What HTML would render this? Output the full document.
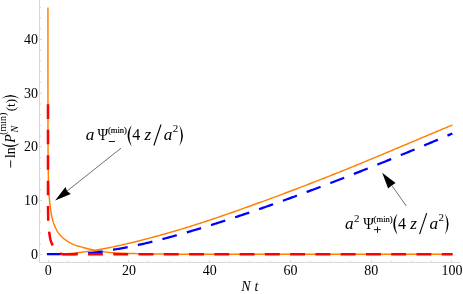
<!DOCTYPE html><html><head><meta charset="utf-8"><title>Chart</title><style>html,body{margin:0;padding:0;background:#fff}body{width:463px;height:294px;overflow:hidden;font-family:"Liberation Serif",serif}</style></head><body><svg width="463" height="294" viewBox="0 0 463 294" style="display:block;will-change:transform">
<rect width="463" height="294" fill="#fff"/>
<g stroke="#d6d6d6" stroke-width="1" fill="none">
<path d="M39.45,0 V262.8"/>
<path d="M38.95,262.4 H460.4"/>
<path d="M48.5,261.8 v-2.0"/>
<path d="M68.5,261.8 v-1.0"/>
<path d="M88.5,261.8 v-1.0"/>
<path d="M108.5,261.8 v-1.0"/>
<path d="M128.5,261.8 v-2.0"/>
<path d="M148.5,261.8 v-1.0"/>
<path d="M169.5,261.8 v-1.0"/>
<path d="M189.5,261.8 v-1.0"/>
<path d="M209.5,261.8 v-2.0"/>
<path d="M229.5,261.8 v-1.0"/>
<path d="M249.5,261.8 v-1.0"/>
<path d="M270.5,261.8 v-1.0"/>
<path d="M290.5,261.8 v-2.0"/>
<path d="M310.5,261.8 v-1.0"/>
<path d="M330.5,261.8 v-1.0"/>
<path d="M350.5,261.8 v-1.0"/>
<path d="M371.5,261.8 v-2.0"/>
<path d="M391.5,261.8 v-1.0"/>
<path d="M411.5,261.8 v-1.0"/>
<path d="M431.5,261.8 v-1.0"/>
<path d="M451.5,261.8 v-2.0"/>
<path d="M39.95,254.40 h2.1"/>
<path d="M39.95,243.65 h1.1"/>
<path d="M39.95,232.90 h1.1"/>
<path d="M39.95,222.15 h1.1"/>
<path d="M39.95,211.40 h1.1"/>
<path d="M39.95,200.65 h2.1"/>
<path d="M39.95,189.90 h1.1"/>
<path d="M39.95,179.15 h1.1"/>
<path d="M39.95,168.40 h1.1"/>
<path d="M39.95,157.65 h1.1"/>
<path d="M39.95,146.90 h2.1"/>
<path d="M39.95,136.15 h1.1"/>
<path d="M39.95,125.40 h1.1"/>
<path d="M39.95,114.65 h1.1"/>
<path d="M39.95,103.90 h1.1"/>
<path d="M39.95,93.15 h2.1"/>
<path d="M39.95,82.40 h1.1"/>
<path d="M39.95,71.65 h1.1"/>
<path d="M39.95,60.90 h1.1"/>
<path d="M39.95,50.15 h1.1"/>
<path d="M39.95,39.40 h2.1"/>
<path d="M39.95,28.65 h1.1"/>
<path d="M39.95,17.90 h1.1"/>
<path d="M39.95,7.15 h1.1"/>
</g>
<path d="M47.95,7.60 L47.95,8.65 L47.95,9.69 L47.95,10.74 L47.95,11.78 L47.95,12.83 L47.95,13.87 L47.95,14.92 L47.95,15.96 L47.95,17.01 L47.95,18.05 L47.95,19.10 L47.95,20.14 L47.95,21.19 L47.95,22.23 L47.95,23.28 L47.95,24.32 L47.95,25.37 L47.95,26.41 L47.95,27.46 L47.95,28.50 L47.95,29.55 L47.95,30.59 L47.95,31.64 L47.95,32.68 L47.95,33.73 L47.95,34.77 L47.95,35.82 L47.95,36.86 L47.95,37.91 L47.95,38.95 L47.95,40.00 L47.95,41.04 L47.95,42.09 L47.95,43.13 L47.95,44.18 L47.95,45.22 L47.95,46.27 L47.95,47.31 L47.95,48.36 L47.95,49.40 L47.95,50.45 L47.95,51.49 L47.95,52.54 L47.95,53.58 L47.95,54.63 L47.95,55.67 L47.95,56.72 L47.95,57.76 L47.95,58.81 L47.95,59.85 L47.95,60.90 L47.95,61.94 L47.95,62.99 L47.95,64.03 L47.95,65.08 L47.95,66.12 L47.95,67.17 L47.95,68.21 L47.95,69.26 L47.95,70.30 L47.95,71.35 L47.95,72.39 L47.95,73.44 L47.95,74.48 L47.95,75.53 L47.95,76.58 L47.95,77.62 L47.95,78.67 L47.95,79.71 L47.95,80.76 L47.95,81.80 L47.95,82.85 L47.95,83.89 L47.95,84.94 L47.95,85.98 L47.95,87.03 L47.95,88.07 L47.95,89.12 L47.96,90.16 L47.96,91.21 L47.96,92.25 L47.96,93.30 L47.96,94.34 L47.96,95.39 L47.96,96.43 L47.96,97.48 L47.96,98.52 L47.96,99.57 L47.96,100.61 L47.96,101.66 L47.96,102.70 L47.96,103.75 L47.96,104.79 L47.96,105.84 L47.96,106.88 L47.96,107.93 L47.96,108.97 L47.96,110.02 L47.96,111.06 L47.97,112.11 L47.97,113.15 L47.97,114.20 L47.97,115.24 L47.97,116.29 L47.97,117.33 L47.97,118.38 L47.97,119.42 L47.97,120.47 L47.97,121.51 L47.97,122.56 L47.97,123.60 L47.97,124.65 L47.98,125.69 L47.98,126.74 L47.98,127.78 L47.98,128.83 L47.98,129.87 L47.98,130.92 L47.99,131.96 L47.99,133.01 L47.99,134.05 L47.99,135.10 L48.00,136.14 L48.00,137.19 L48.00,138.24 L48.01,139.28 L48.01,140.33 L48.01,141.37 L48.02,142.42 L48.02,143.46 L48.02,144.51 L48.03,145.55 L48.03,146.60 L48.04,147.64 L48.04,148.69 L48.05,149.73 L48.05,150.78 L48.06,151.82 L48.06,152.87 L48.07,153.91 L48.07,154.96 L48.08,156.00 L48.08,157.05 L48.09,158.09 L48.09,159.14 L48.10,160.18 L48.11,161.23 L48.12,162.27 L48.13,163.32 L48.14,164.36 L48.15,165.41 L48.17,166.45 L48.18,167.50 L48.20,168.54 L48.22,169.59 L48.23,170.63 L48.26,171.68 L48.28,172.72 L48.30,173.77 L48.32,174.81 L48.35,175.86 L48.38,176.90 L48.40,177.95 L48.43,178.99 L48.46,180.04 L48.49,181.08 L48.53,182.13 L48.56,183.17 L48.59,184.22 L48.63,185.26 L48.66,186.30 L48.70,187.35 L48.74,188.39 L48.78,189.44 L48.82,190.48 L48.87,191.52 L48.93,192.57 L48.99,193.61 L49.06,194.65 L49.14,195.70 L49.22,196.74 L49.31,197.78 L49.40,198.82 L49.49,199.86 L49.59,200.90 L49.69,201.94 L49.81,202.98 L49.94,204.02 L50.07,205.05 L50.21,206.09 L50.35,207.13 L50.49,208.16 L50.63,209.20 L50.77,210.23 L50.91,211.27 L51.06,212.31 L51.21,213.34 L51.39,214.37 L51.58,215.40 L51.79,216.42 L52.01,217.44 L52.26,218.46 L52.53,219.47 L52.81,220.48 L53.10,221.48 L53.41,222.47 L53.75,223.46 L54.12,224.44 L54.50,225.42 L54.90,226.39 L55.32,227.35 L55.76,228.30 L56.21,229.24 L56.68,230.17 L57.19,231.09 L57.73,231.99 L58.31,232.84 L58.96,233.66 L59.64,234.46 L60.34,235.24 L61.04,236.03 L61.75,236.80 L62.50,237.53 L63.28,238.21 L64.08,238.86 L64.92,239.50 L65.77,240.11 L66.64,240.71 L67.53,241.28 L68.42,241.83 L69.32,242.35 L70.23,242.85 L71.16,243.33 L72.09,243.80 L73.05,244.25 L74.01,244.68 L74.98,245.08 L75.95,245.44 L76.94,245.77 L77.94,246.06 L78.96,246.32 L79.97,246.59 L80.98,246.87 L81.98,247.16 L82.99,247.44 L83.99,247.72 L85.00,248.01 L86.01,248.29 L87.02,248.56 L88.03,248.81 L89.04,249.06 L90.06,249.30 L91.08,249.54 L92.10,249.77 L93.12,249.99 L94.14,250.22 L95.16,250.44 L96.19,250.65 L97.21,250.84 L98.24,251.01 L99.28,251.17 L100.31,251.33 L101.35,251.47 L102.38,251.62 L103.42,251.75 L104.45,251.88 L105.49,252.01 L106.53,252.14 L107.57,252.26 L108.61,252.37 L109.65,252.47 L110.69,252.55 L111.73,252.63 L112.77,252.70 L113.81,252.77 L114.86,252.84 L115.90,252.90 L116.95,252.95 L117.99,253.01 L119.03,253.06 L120.08,253.10 L121.12,253.15 L122.17,253.19 L123.21,253.23 L124.25,253.27 L125.30,253.31 L126.34,253.35 L127.39,253.38 L128.43,253.42 L129.48,253.45 L130.52,253.48 L131.57,253.51 L132.61,253.54 L133.66,253.57 L134.70,253.59 L135.75,253.62 L136.79,253.64 L137.84,253.67 L138.88,253.69 L139.92,253.72 L140.97,253.74 L142.01,253.76 L143.06,253.79 L144.10,253.81 L145.15,253.83 L146.19,253.85 L147.24,253.87 L148.28,253.89 L149.33,253.91 L150.37,253.93 L151.42,253.95 L152.46,253.97 L153.51,253.98 L154.55,254.00 L155.60,254.01 L156.64,254.02 L157.69,254.03 L158.73,254.04 L159.78,254.05 L160.82,254.06 L161.87,254.06 L162.91,254.07 L163.96,254.08 L165.00,254.08 L166.05,254.09 L167.09,254.09 L168.14,254.10 L169.18,254.11 L170.23,254.11 L171.27,254.12 L172.32,254.12 L173.36,254.13 L174.41,254.13 L175.45,254.14 L176.50,254.14 L177.54,254.15 L178.59,254.15 L179.63,254.16 L180.68,254.16 L181.72,254.16 L182.77,254.17 L183.81,254.17 L184.86,254.18 L185.91,254.18 L186.95,254.18 L188.00,254.18 L189.04,254.19 L190.09,254.19 L191.13,254.19 L192.18,254.19 L193.22,254.19 L194.27,254.20 L195.31,254.20 L196.36,254.20 L197.40,254.20 L198.45,254.20 L199.49,254.20 L200.54,254.20 L201.58,254.20 L202.63,254.20 L203.67,254.20 L204.72,254.20 L205.76,254.20 L206.81,254.20 L207.85,254.20 L208.90,254.20 L209.94,254.20 L210.99,254.20 L212.03,254.20 L213.08,254.20 L214.12,254.20 L215.17,254.20 L216.21,254.20 L217.26,254.20 L218.30,254.20 L219.35,254.20 L220.39,254.20 L221.44,254.20 L222.48,254.20 L223.53,254.20 L224.57,254.20 L225.62,254.20 L226.66,254.20 L227.71,254.20 L228.75,254.20 L229.80,254.20 L230.84,254.20 L231.89,254.20 L232.93,254.20 L233.98,254.20 L235.02,254.20 L236.07,254.20 L237.11,254.20 L238.16,254.20 L239.20,254.20 L240.25,254.20 L241.29,254.20 L242.34,254.20 L243.38,254.20 L244.43,254.20 L245.47,254.20 L246.52,254.20 L247.56,254.20 L248.61,254.20 L249.65,254.20 L250.70,254.20 L251.74,254.20 L252.79,254.20 L253.84,254.20 L254.88,254.20 L255.93,254.20 L256.97,254.20 L258.02,254.20 L259.06,254.20 L260.11,254.20 L261.15,254.20 L262.20,254.20 L263.24,254.20 L264.29,254.20 L265.33,254.20 L266.38,254.20 L267.42,254.20 L268.47,254.20 L269.51,254.20 L270.56,254.20 L271.60,254.20 L272.65,254.20 L273.69,254.20 L274.74,254.20 L275.78,254.20 L276.83,254.20 L277.87,254.20 L278.92,254.20 L279.96,254.20 L281.01,254.20 L282.05,254.20 L283.10,254.20 L284.14,254.20 L285.19,254.20 L286.23,254.20 L287.28,254.20 L288.32,254.20 L289.37,254.20 L290.41,254.20 L291.46,254.20 L292.50,254.20 L293.55,254.20 L294.59,254.20 L295.64,254.20 L296.68,254.20 L297.73,254.20 L298.77,254.20 L299.82,254.20 L300.86,254.20 L301.91,254.20 L302.95,254.20 L304.00,254.20 L305.04,254.20 L306.09,254.20 L307.13,254.20 L308.18,254.20 L309.22,254.20 L310.27,254.20 L311.31,254.20 L312.36,254.20 L313.40,254.20 L314.45,254.20 L315.49,254.20 L316.54,254.20 L317.58,254.20 L318.63,254.20 L319.67,254.20 L320.72,254.20 L321.77,254.20 L322.81,254.20 L323.86,254.20 L324.90,254.20 L325.95,254.20 L326.99,254.20 L328.04,254.20 L329.08,254.20 L330.13,254.20 L331.17,254.20 L332.22,254.20 L333.26,254.20 L334.31,254.20 L335.35,254.20 L336.40,254.20 L337.44,254.20 L338.49,254.20 L339.53,254.20 L340.58,254.20 L341.62,254.20 L342.67,254.20 L343.71,254.20 L344.76,254.20 L345.80,254.20 L346.85,254.20 L347.89,254.20 L348.94,254.20 L349.98,254.20 L351.03,254.20 L352.07,254.20 L353.12,254.20 L354.16,254.20 L355.21,254.20 L356.25,254.20 L357.30,254.20 L358.34,254.20 L359.39,254.20 L360.43,254.20 L361.48,254.20 L362.52,254.20 L363.57,254.20 L364.61,254.20 L365.66,254.20 L366.70,254.20 L367.75,254.20 L368.79,254.20 L369.84,254.20 L370.88,254.20 L371.93,254.20 L372.97,254.20 L374.02,254.20 L375.06,254.20 L376.11,254.20 L377.15,254.20 L378.20,254.20 L379.24,254.20 L380.29,254.20 L381.33,254.20 L382.38,254.20 L383.42,254.20 L384.47,254.20 L385.51,254.20 L386.56,254.20 L387.60,254.20 L388.65,254.20 L389.70,254.20 L390.74,254.20 L391.79,254.20 L392.83,254.20 L393.88,254.20 L394.92,254.20 L395.97,254.20 L397.01,254.20 L398.06,254.20 L399.10,254.20 L400.15,254.20 L401.19,254.20 L402.24,254.20 L403.28,254.20 L404.33,254.20 L405.37,254.20 L406.42,254.20 L407.46,254.20 L408.51,254.20 L409.55,254.20 L410.60,254.20 L411.64,254.20 L412.69,254.20 L413.73,254.20 L414.78,254.20 L415.82,254.20 L416.87,254.20 L417.91,254.20 L418.96,254.20 L420.00,254.20 L421.05,254.20 L422.09,254.20 L423.14,254.20 L424.18,254.20 L425.23,254.20 L426.27,254.20 L427.32,254.20 L428.36,254.20 L429.41,254.20 L430.45,254.20 L431.50,254.20 L432.54,254.20 L433.59,254.20 L434.63,254.20 L435.68,254.20 L436.72,254.20 L437.77,254.20 L438.81,254.20 L439.86,254.20 L440.90,254.20 L441.95,254.20 L442.99,254.20 L444.04,254.20 L445.08,254.20 L446.13,254.20 L447.17,254.20 L448.22,254.20 L449.26,254.20 L450.31,254.20 L451.35,254.20 L452.40,254.20" fill="none" stroke="#FF8000" stroke-width="1.45" stroke-linejoin="round"/>
<path d="M48.00,254.15 L49.35,254.15 L50.71,254.15 L52.06,254.15 L53.41,254.15 L54.76,254.15 L56.12,254.15 L57.47,254.15 L58.82,254.15 L60.17,254.13 L61.53,254.07 L62.88,254.00 L64.23,253.92 L65.58,253.83 L66.94,253.74 L68.29,253.64 L69.64,253.53 L70.99,253.41 L72.35,253.29 L73.70,253.16 L75.05,253.02 L76.40,252.88 L77.76,252.73 L79.11,252.57 L80.46,252.41 L81.81,252.24 L83.17,252.06 L84.52,251.88 L85.87,251.70 L87.22,251.50 L88.58,251.30 L89.93,251.10 L91.28,250.89 L92.63,250.67 L93.99,250.45 L95.34,250.23 L96.69,249.99 L98.04,249.76 L99.40,249.52 L100.75,249.27 L102.10,249.02 L103.45,248.77 L104.81,248.51 L106.16,248.25 L107.51,247.98 L108.86,247.71 L110.22,247.44 L111.57,247.16 L112.92,246.88 L114.27,246.60 L115.63,246.31 L116.98,246.02 L118.33,245.72 L119.68,245.42 L121.04,245.12 L122.39,244.82 L123.74,244.51 L125.09,244.20 L126.45,243.89 L127.80,243.57 L129.15,243.25 L130.50,242.93 L131.86,242.61 L133.21,242.28 L134.56,241.95 L135.91,241.61 L137.27,241.28 L138.62,240.94 L139.97,240.60 L141.32,240.25 L142.68,239.91 L144.03,239.56 L145.38,239.21 L146.73,238.85 L148.09,238.50 L149.44,238.14 L150.79,237.78 L152.14,237.42 L153.50,237.05 L154.85,236.69 L156.20,236.32 L157.55,235.95 L158.91,235.58 L160.26,235.20 L161.61,234.82 L162.96,234.45 L164.32,234.06 L165.67,233.68 L167.02,233.30 L168.37,232.91 L169.73,232.52 L171.08,232.13 L172.43,231.74 L173.78,231.34 L175.14,230.95 L176.49,230.55 L177.84,230.15 L179.19,229.74 L180.55,229.34 L181.90,228.93 L183.25,228.52 L184.60,228.11 L185.96,227.69 L187.31,227.28 L188.66,226.86 L190.01,226.44 L191.37,226.02 L192.72,225.60 L194.07,225.17 L195.42,224.74 L196.78,224.31 L198.13,223.88 L199.48,223.44 L200.83,223.01 L202.19,222.57 L203.54,222.13 L204.89,221.69 L206.24,221.24 L207.60,220.80 L208.95,220.35 L210.30,219.90 L211.65,219.45 L213.01,219.00 L214.36,218.54 L215.71,218.09 L217.06,217.63 L218.42,217.17 L219.77,216.71 L221.12,216.24 L222.47,215.78 L223.83,215.31 L225.18,214.85 L226.53,214.38 L227.88,213.91 L229.24,213.44 L230.59,212.96 L231.94,212.49 L233.29,212.01 L234.65,211.54 L236.00,211.06 L237.35,210.58 L238.70,210.10 L240.06,209.62 L241.41,209.14 L242.76,208.66 L244.11,208.17 L245.47,207.69 L246.82,207.20 L248.17,206.72 L249.52,206.23 L250.88,205.74 L252.23,205.25 L253.58,204.76 L254.93,204.27 L256.29,203.78 L257.64,203.29 L258.99,202.80 L260.34,202.30 L261.70,201.81 L263.05,201.31 L264.40,200.82 L265.75,200.32 L267.11,199.83 L268.46,199.33 L269.81,198.83 L271.16,198.33 L272.52,197.83 L273.87,197.33 L275.22,196.83 L276.57,196.33 L277.93,195.83 L279.28,195.32 L280.63,194.82 L281.98,194.32 L283.34,193.81 L284.69,193.30 L286.04,192.80 L287.39,192.29 L288.75,191.78 L290.10,191.27 L291.45,190.76 L292.80,190.25 L294.16,189.74 L295.51,189.22 L296.86,188.71 L298.21,188.19 L299.57,187.68 L300.92,187.16 L302.27,186.65 L303.62,186.13 L304.98,185.61 L306.33,185.09 L307.68,184.57 L309.03,184.05 L310.39,183.52 L311.74,183.00 L313.09,182.48 L314.44,181.95 L315.80,181.42 L317.15,180.90 L318.50,180.37 L319.85,179.84 L321.21,179.31 L322.56,178.78 L323.91,178.25 L325.26,177.72 L326.62,177.18 L327.97,176.65 L329.32,176.11 L330.67,175.58 L332.03,175.04 L333.38,174.50 L334.73,173.96 L336.08,173.42 L337.44,172.88 L338.79,172.34 L340.14,171.80 L341.49,171.25 L342.85,170.71 L344.20,170.16 L345.55,169.62 L346.90,169.07 L348.26,168.52 L349.61,167.97 L350.96,167.42 L352.31,166.87 L353.67,166.32 L355.02,165.77 L356.37,165.22 L357.72,164.66 L359.08,164.11 L360.43,163.55 L361.78,162.99 L363.13,162.44 L364.49,161.88 L365.84,161.32 L367.19,160.76 L368.54,160.20 L369.90,159.63 L371.25,159.07 L372.60,158.51 L373.95,157.94 L375.31,157.38 L376.66,156.82 L378.01,156.25 L379.36,155.68 L380.72,155.12 L382.07,154.55 L383.42,153.98 L384.77,153.41 L386.13,152.85 L387.48,152.28 L388.83,151.71 L390.18,151.14 L391.54,150.57 L392.89,150.00 L394.24,149.43 L395.59,148.86 L396.95,148.29 L398.30,147.72 L399.65,147.15 L401.00,146.58 L402.36,146.01 L403.71,145.44 L405.06,144.87 L406.41,144.30 L407.77,143.73 L409.12,143.15 L410.47,142.58 L411.82,142.01 L413.18,141.44 L414.53,140.87 L415.88,140.30 L417.23,139.73 L418.59,139.16 L419.94,138.59 L421.29,138.02 L422.64,137.45 L424.00,136.89 L425.35,136.32 L426.70,135.75 L428.05,135.18 L429.41,134.61 L430.76,134.04 L432.11,133.48 L433.46,132.91 L434.82,132.34 L436.17,131.78 L437.52,131.21 L438.87,130.65 L440.23,130.08 L441.58,129.52 L442.93,128.95 L444.28,128.39 L445.64,127.83 L446.99,127.27 L448.34,126.70 L449.69,126.14 L451.05,125.58 L452.40,125.02" fill="none" stroke="#FF8000" stroke-width="1.45" stroke-linejoin="round"/>
<path d="M46.9,254.15 H61.9" fill="none" stroke="#0000FF" stroke-width="2.25"/>
<path d="M62.70,254.13 L64.00,254.14 L65.31,254.14 L66.61,254.14 L67.91,254.13 L69.22,254.12 L70.52,254.11 L71.82,254.08 L73.13,254.06 L74.43,254.03 L75.73,253.99 L77.04,253.94 L78.34,253.89 L79.64,253.83 L80.95,253.77 L82.25,253.69 L83.55,253.61 L84.86,253.52 L86.16,253.42 L87.46,253.32 L88.77,253.20 L90.07,253.08 L91.37,252.94 L92.68,252.80 L93.98,252.65 L95.28,252.49 L96.59,252.32 L97.89,252.15 L99.19,251.97 L100.50,251.78 L101.80,251.59 L103.10,251.40 L104.41,251.20 L105.71,250.99 L107.01,250.78 L108.32,250.57 L109.62,250.35 L110.92,250.13 L112.23,249.91 L113.53,249.69 L114.83,249.46 L116.14,249.24 L117.44,249.01 L118.74,248.78 L120.05,248.55 L121.35,248.31 L122.65,248.07 L123.96,247.83 L125.26,247.59 L126.56,247.34 L127.87,247.09 L129.17,246.84 L130.47,246.58 L131.78,246.32 L133.08,246.06 L134.38,245.79 L135.69,245.52 L136.99,245.24 L138.29,244.96 L139.60,244.68 L140.90,244.39 L142.20,244.09 L143.51,243.79 L144.81,243.49 L146.11,243.19 L147.42,242.88 L148.72,242.56 L150.02,242.25 L151.33,241.93 L152.63,241.61 L153.93,241.28 L155.24,240.96 L156.54,240.63 L157.84,240.30 L159.15,239.96 L160.45,239.63 L161.75,239.29 L163.06,238.95 L164.36,238.60 L165.66,238.26 L166.97,237.91 L168.27,237.56 L169.57,237.21 L170.88,236.85 L172.18,236.50 L173.48,236.14 L174.79,235.78 L176.09,235.41 L177.39,235.05 L178.70,234.68 L180.00,234.32 L181.30,233.94 L182.61,233.57 L183.91,233.20 L185.21,232.82 L186.52,232.44 L187.82,232.07 L189.12,231.68 L190.43,231.30 L191.73,230.92 L193.03,230.53 L194.34,230.14 L195.64,229.75 L196.94,229.36 L198.25,228.97 L199.55,228.58 L200.85,228.18 L202.16,227.78 L203.46,227.39 L204.76,226.99 L206.07,226.59 L207.37,226.18 L208.67,225.78 L209.98,225.37 L211.28,224.97 L212.58,224.56 L213.89,224.15 L215.19,223.74 L216.49,223.33 L217.80,222.91 L219.10,222.50 L220.40,222.08 L221.71,221.67 L223.01,221.25 L224.31,220.83 L225.62,220.41 L226.92,219.98 L228.22,219.56 L229.53,219.14 L230.83,218.71 L232.13,218.28 L233.44,217.85 L234.74,217.42 L236.04,216.99 L237.35,216.56 L238.65,216.13 L239.95,215.69 L241.26,215.26 L242.56,214.82 L243.86,214.38 L245.17,213.94 L246.47,213.50 L247.77,213.06 L249.08,212.62 L250.38,212.17 L251.68,211.73 L252.99,211.28 L254.29,210.83 L255.59,210.39 L256.90,209.94 L258.20,209.49 L259.51,209.03 L260.81,208.58 L262.11,208.13 L263.42,207.67 L264.72,207.22 L266.02,206.76 L267.33,206.30 L268.63,205.84 L269.93,205.38 L271.24,204.92 L272.54,204.46 L273.84,204.00 L275.15,203.53 L276.45,203.07 L277.75,202.60 L279.06,202.13 L280.36,201.67 L281.66,201.20 L282.97,200.73 L284.27,200.26 L285.57,199.78 L286.88,199.31 L288.18,198.84 L289.48,198.36 L290.79,197.89 L292.09,197.41 L293.39,196.94 L294.70,196.46 L296.00,195.98 L297.30,195.50 L298.61,195.02 L299.91,194.54 L301.21,194.06 L302.52,193.57 L303.82,193.09 L305.12,192.60 L306.43,192.12 L307.73,191.63 L309.03,191.14 L310.34,190.66 L311.64,190.17 L312.94,189.68 L314.25,189.19 L315.55,188.70 L316.85,188.20 L318.16,187.71 L319.46,187.22 L320.76,186.72 L322.07,186.23 L323.37,185.73 L324.67,185.24 L325.98,184.74 L327.28,184.24 L328.58,183.75 L329.89,183.25 L331.19,182.75 L332.49,182.25 L333.80,181.75 L335.10,181.24 L336.40,180.74 L337.71,180.24 L339.01,179.73 L340.31,179.23 L341.62,178.72 L342.92,178.22 L344.22,177.71 L345.53,177.21 L346.83,176.70 L348.13,176.19 L349.44,175.68 L350.74,175.17 L352.04,174.66 L353.35,174.15 L354.65,173.64 L355.95,173.13 L357.26,172.62 L358.56,172.10 L359.86,171.59 L361.17,171.08 L362.47,170.56 L363.77,170.05 L365.08,169.53 L366.38,169.01 L367.68,168.49 L368.99,167.98 L370.29,167.46 L371.59,166.94 L372.90,166.42 L374.20,165.90 L375.50,165.38 L376.81,164.86 L378.11,164.33 L379.41,163.81 L380.72,163.29 L382.02,162.76 L383.32,162.24 L384.63,161.71 L385.93,161.18 L387.23,160.66 L388.54,160.13 L389.84,159.60 L391.14,159.07 L392.45,158.54 L393.75,158.01 L395.05,157.48 L396.36,156.95 L397.66,156.42 L398.96,155.89 L400.27,155.35 L401.57,154.82 L402.87,154.28 L404.18,153.75 L405.48,153.21 L406.78,152.68 L408.09,152.14 L409.39,151.60 L410.69,151.06 L412.00,150.52 L413.30,149.98 L414.60,149.44 L415.91,148.90 L417.21,148.36 L418.51,147.82 L419.82,147.27 L421.12,146.73 L422.42,146.19 L423.73,145.64 L425.03,145.10 L426.33,144.55 L427.64,144.00 L428.94,143.45 L430.24,142.91 L431.55,142.36 L432.85,141.81 L434.15,141.26 L435.46,140.70 L436.76,140.15 L438.06,139.60 L439.37,139.05 L440.67,138.49 L441.97,137.94 L443.28,137.38 L444.58,136.83 L445.88,136.27 L447.19,135.71 L448.49,135.16 L449.79,134.60 L451.10,134.04 L452.40,133.48" fill="none" stroke="#0000FF" stroke-width="2.25" stroke-dasharray="14.9 10.39"/>
<path d="M48.00,104.30 L48.00,105.08 L48.00,105.86 L48.00,106.65 L48.00,107.43 L48.00,108.21 L48.00,108.99 L48.00,109.77 L48.00,110.55 L48.00,111.34 L48.00,112.12 L48.00,112.90 L48.00,113.68 L48.00,114.46 L48.00,115.24 L48.00,116.03 L48.00,116.81 L48.00,117.59 L48.00,118.37 L48.00,119.15 L48.00,119.93 L48.00,120.72 L48.00,121.50 L48.00,122.28 L48.00,123.06 L48.00,123.84 L48.00,124.62 L48.00,125.41 L48.00,126.19 L48.00,126.97 L48.00,127.75 L48.00,128.53 L48.00,129.31 L48.00,130.10 L48.00,130.88 L48.00,131.66 L48.00,132.44 L48.00,133.22 L48.00,134.00 L48.00,134.79 L48.00,135.57 L48.00,136.35 L48.00,137.13 L48.00,137.91 L48.00,138.69 L48.00,139.48 L48.00,140.26 L48.00,141.04 L48.00,141.82 L48.00,142.60 L48.00,143.38 L48.00,144.17 L48.00,144.95 L48.00,145.73 L48.00,146.51 L48.00,147.29 L48.00,148.07 L48.00,148.86 L48.00,149.64 L48.00,150.42 L48.00,151.20 L48.00,151.98 L48.00,152.76 L48.00,153.55 L48.00,154.33 L48.00,155.11 L48.00,155.89 L48.00,156.67 L48.00,157.45 L48.00,158.24 L48.00,159.02 L48.00,159.80 L48.00,160.58 L48.00,161.36 L48.00,162.14 L48.00,162.93 L48.00,163.71 L48.00,164.49 L48.00,165.27 L48.00,166.05 L48.00,166.83 L48.00,167.62 L48.00,168.40 L48.00,169.18 L48.00,169.96 L48.00,170.74 L48.00,171.52 L48.00,172.31 L48.00,173.09 L48.00,173.87 L48.00,174.65 L48.00,175.43 L48.00,176.21 L48.00,177.00 L48.00,177.78 L48.00,178.56 L48.00,179.34 L48.00,180.12 L48.00,180.90 L48.00,181.69 L48.00,182.47 L48.00,183.25 L48.00,184.03 L48.00,184.81 L48.00,185.59 L48.00,186.38 L48.00,187.16 L48.00,187.94 L48.00,188.72 L48.00,189.50 L48.00,190.28 L48.00,191.07 L48.00,191.85 L48.00,192.63 L48.00,193.41 L48.00,194.19 L48.00,194.97 L48.00,195.76 L48.00,196.54 L48.00,197.32 L48.00,198.10 L48.00,198.88 L48.00,199.66 L48.00,200.45 L48.00,201.23 L48.00,202.01 L48.00,202.79 L48.01,203.57 L48.01,204.36 L48.01,205.14 L48.02,205.92 L48.02,206.70 L48.03,207.48 L48.04,208.27 L48.04,209.05 L48.05,209.83 L48.06,210.61 L48.07,211.39 L48.08,212.18 L48.09,212.96 L48.10,213.74 L48.11,214.52 L48.12,215.30 L48.13,216.08 L48.14,216.86 L48.16,217.64 L48.17,218.43 L48.18,219.21 L48.20,219.99 L48.22,220.77 L48.25,221.55 L48.29,222.33 L48.34,223.11 L48.39,223.89 L48.46,224.67 L48.52,225.45 L48.60,226.23 L48.67,227.01 L48.75,227.78 L48.84,228.56 L48.92,229.34 L49.00,230.12 L49.09,230.89 L49.17,231.67 L49.26,232.45 L49.36,233.23 L49.46,234.01 L49.56,234.79 L49.68,235.56 L49.80,236.34 L49.93,237.11 L50.07,237.87 L50.22,238.63 L50.39,239.39 L50.59,240.14 L50.81,240.89 L51.06,241.63 L51.34,242.38 L51.63,243.11 L51.94,243.83 L52.25,244.55 L52.58,245.25 L52.92,245.95 L53.28,246.65 L53.67,247.34 L54.08,248.02 L54.51,248.68 L54.96,249.32 L55.44,249.92 L55.94,250.51 L56.48,251.10 L57.07,251.65 L57.68,252.16 L58.31,252.59 L58.97,252.94 L59.65,253.27 L60.37,253.57 L61.12,253.83 L61.90,254.04 L62.70,254.20" fill="none" stroke="#FF0000" stroke-width="2.5" stroke-dasharray="14.6 10.85 14.6 10.85 14.6 10.85 14.6 10.85 14.6 10.85 14.6 10.85 0 1000"/>
<path d="M59.9,253.3 Q61.2,254.15 63.5,254.2" fill="none" stroke="#FF0000" stroke-width="2.3"/>
<path d="M62.73,254.2 H452.6" fill="none" stroke="#FF0000" stroke-width="2.5" stroke-dasharray="14.9 10.37"/>
<path d="M121,148.2 L67.0,191.1" stroke="#333" stroke-width="0.7" fill="none"/>
<path d="M55.1,200.5 L65.5,187.0 L67.0,191.1 L70.8,193.9 Z" fill="#000"/>
<path d="M406.3,206 L391.8,185.4" stroke="#333" stroke-width="0.7" fill="none"/>
<path d="M382.2,172.8 L395.6,183.1 L391.8,185.4 L388.1,188.4 Z" fill="#000"/>
<g font-family="Liberation Serif, serif" font-size="14" fill="#000">
<text x="48.2" y="274.8" text-anchor="middle">0</text>
<text x="129.0" y="274.8" text-anchor="middle">20</text>
<text x="209.8" y="274.8" text-anchor="middle">40</text>
<text x="290.5" y="274.8" text-anchor="middle">60</text>
<text x="371.3" y="274.8" text-anchor="middle">80</text>
<text x="452.1" y="274.8" text-anchor="middle">100</text>
<text x="38.0" y="258.7" text-anchor="end">0</text>
<text x="38.0" y="205.0" text-anchor="end">10</text>
<text x="38.0" y="151.2" text-anchor="end">20</text>
<text x="38.0" y="97.5" text-anchor="end">30</text>
<text x="38.0" y="43.7" text-anchor="end">40</text>
<text x="241.2" y="290.8" font-style="italic">N</text><text x="254.5" y="290.8" font-style="italic">t</text>
</g>
<g transform="translate(0,0)" font-family="Liberation Serif, serif" fill="#000">
<text transform="translate(85.7,140.1) scale(1.08,1)" font-size="16" font-style="italic">a</text><rect x="108.8" y="141.05" width="6.2" height="0.95" fill="#111"/>
<text transform="translate(97.6,140.1) scale(0.9,1.06)" x="0" y="0" font-size="16">Ψ</text>
<text x="107.9" y="133.3" font-size="8.6" stroke="#000" stroke-width="0.15">(min)</text>
<path d="M131.70000000000002,124.9 Q123.53,135.55 131.70000000000002,146.2 Q126.93,135.55 131.70000000000002,124.9 Z" fill="#000"/>
<text x="132.2" y="140.1" font-size="16">4</text>
<text transform="translate(144.6,140.1) scale(1.08,1)" font-size="16" font-style="italic">z</text>
<path d="M153.9,145.5 L161.0,124.5" stroke="#000" stroke-width="1.1" fill="none"/>
<text transform="translate(163.7,140.1) scale(1.08,1)" font-size="16" font-style="italic">a</text>
<text x="172.7" y="132.0" font-size="11">2</text>
<path d="M179.3,124.9 Q186.52,135.55 179.3,146.2 Q183.32000000000002,135.55 179.3,124.9 Z" fill="#000"/>
</g>
<g transform="translate(265.7,88.6)" font-family="Liberation Serif, serif" fill="#000">
<text transform="translate(79.3,140.1) scale(1.08,1)" font-size="16" font-style="italic">a</text><text x="88.2" y="133.3" font-size="11">2</text><path d="M108.3,141.0 h6.7 M111.8,138.0 v6.3" stroke="#111" stroke-width="0.95" fill="none"/>
<text transform="translate(97.6,140.1) scale(0.9,1.06)" x="0" y="0" font-size="16">Ψ</text>
<text x="107.9" y="133.3" font-size="8.6" stroke="#000" stroke-width="0.15">(min)</text>
<path d="M131.70000000000002,124.9 Q123.53,135.55 131.70000000000002,146.2 Q126.93,135.55 131.70000000000002,124.9 Z" fill="#000"/>
<text x="132.2" y="140.1" font-size="16">4</text>
<text transform="translate(144.6,140.1) scale(1.08,1)" font-size="16" font-style="italic">z</text>
<path d="M153.9,145.5 L161.0,124.5" stroke="#000" stroke-width="1.1" fill="none"/>
<text transform="translate(163.7,140.1) scale(1.08,1)" font-size="16" font-style="italic">a</text>
<text x="172.7" y="132.0" font-size="11">2</text>
<path d="M179.3,124.9 Q186.52,135.55 179.3,146.2 Q183.32000000000002,135.55 179.3,124.9 Z" fill="#000"/>
</g>
<g transform="translate(15.25,167) rotate(-90)" font-family="Liberation Serif, serif" fill="#000" font-size="14">
<rect x="-0.6" y="-5.05" width="7.2" height="0.95" fill="#111"/>
<text x="8.9" y="0">ln</text>
<path d="M23.8,-14.0 Q16.2,-4.75 23.8,4.5 Q19.0,-4.75 23.8,-14.0 Z" fill="#000"/>
<text x="24.3" y="0" font-style="italic">P</text>
<text x="34.6" y="2.9" font-size="10" font-style="italic">N</text>
<text x="32.2" y="-8.8" font-size="10">(min)</text>
<text x="55.7" y="-0.5" font-size="13.3">(t)</text>
<path d="M68.5,-14.0 Q75.53,-4.75 68.5,4.5 Q72.73,-4.75 68.5,-14.0 Z" fill="#000"/>
</g>
</svg></body></html>
